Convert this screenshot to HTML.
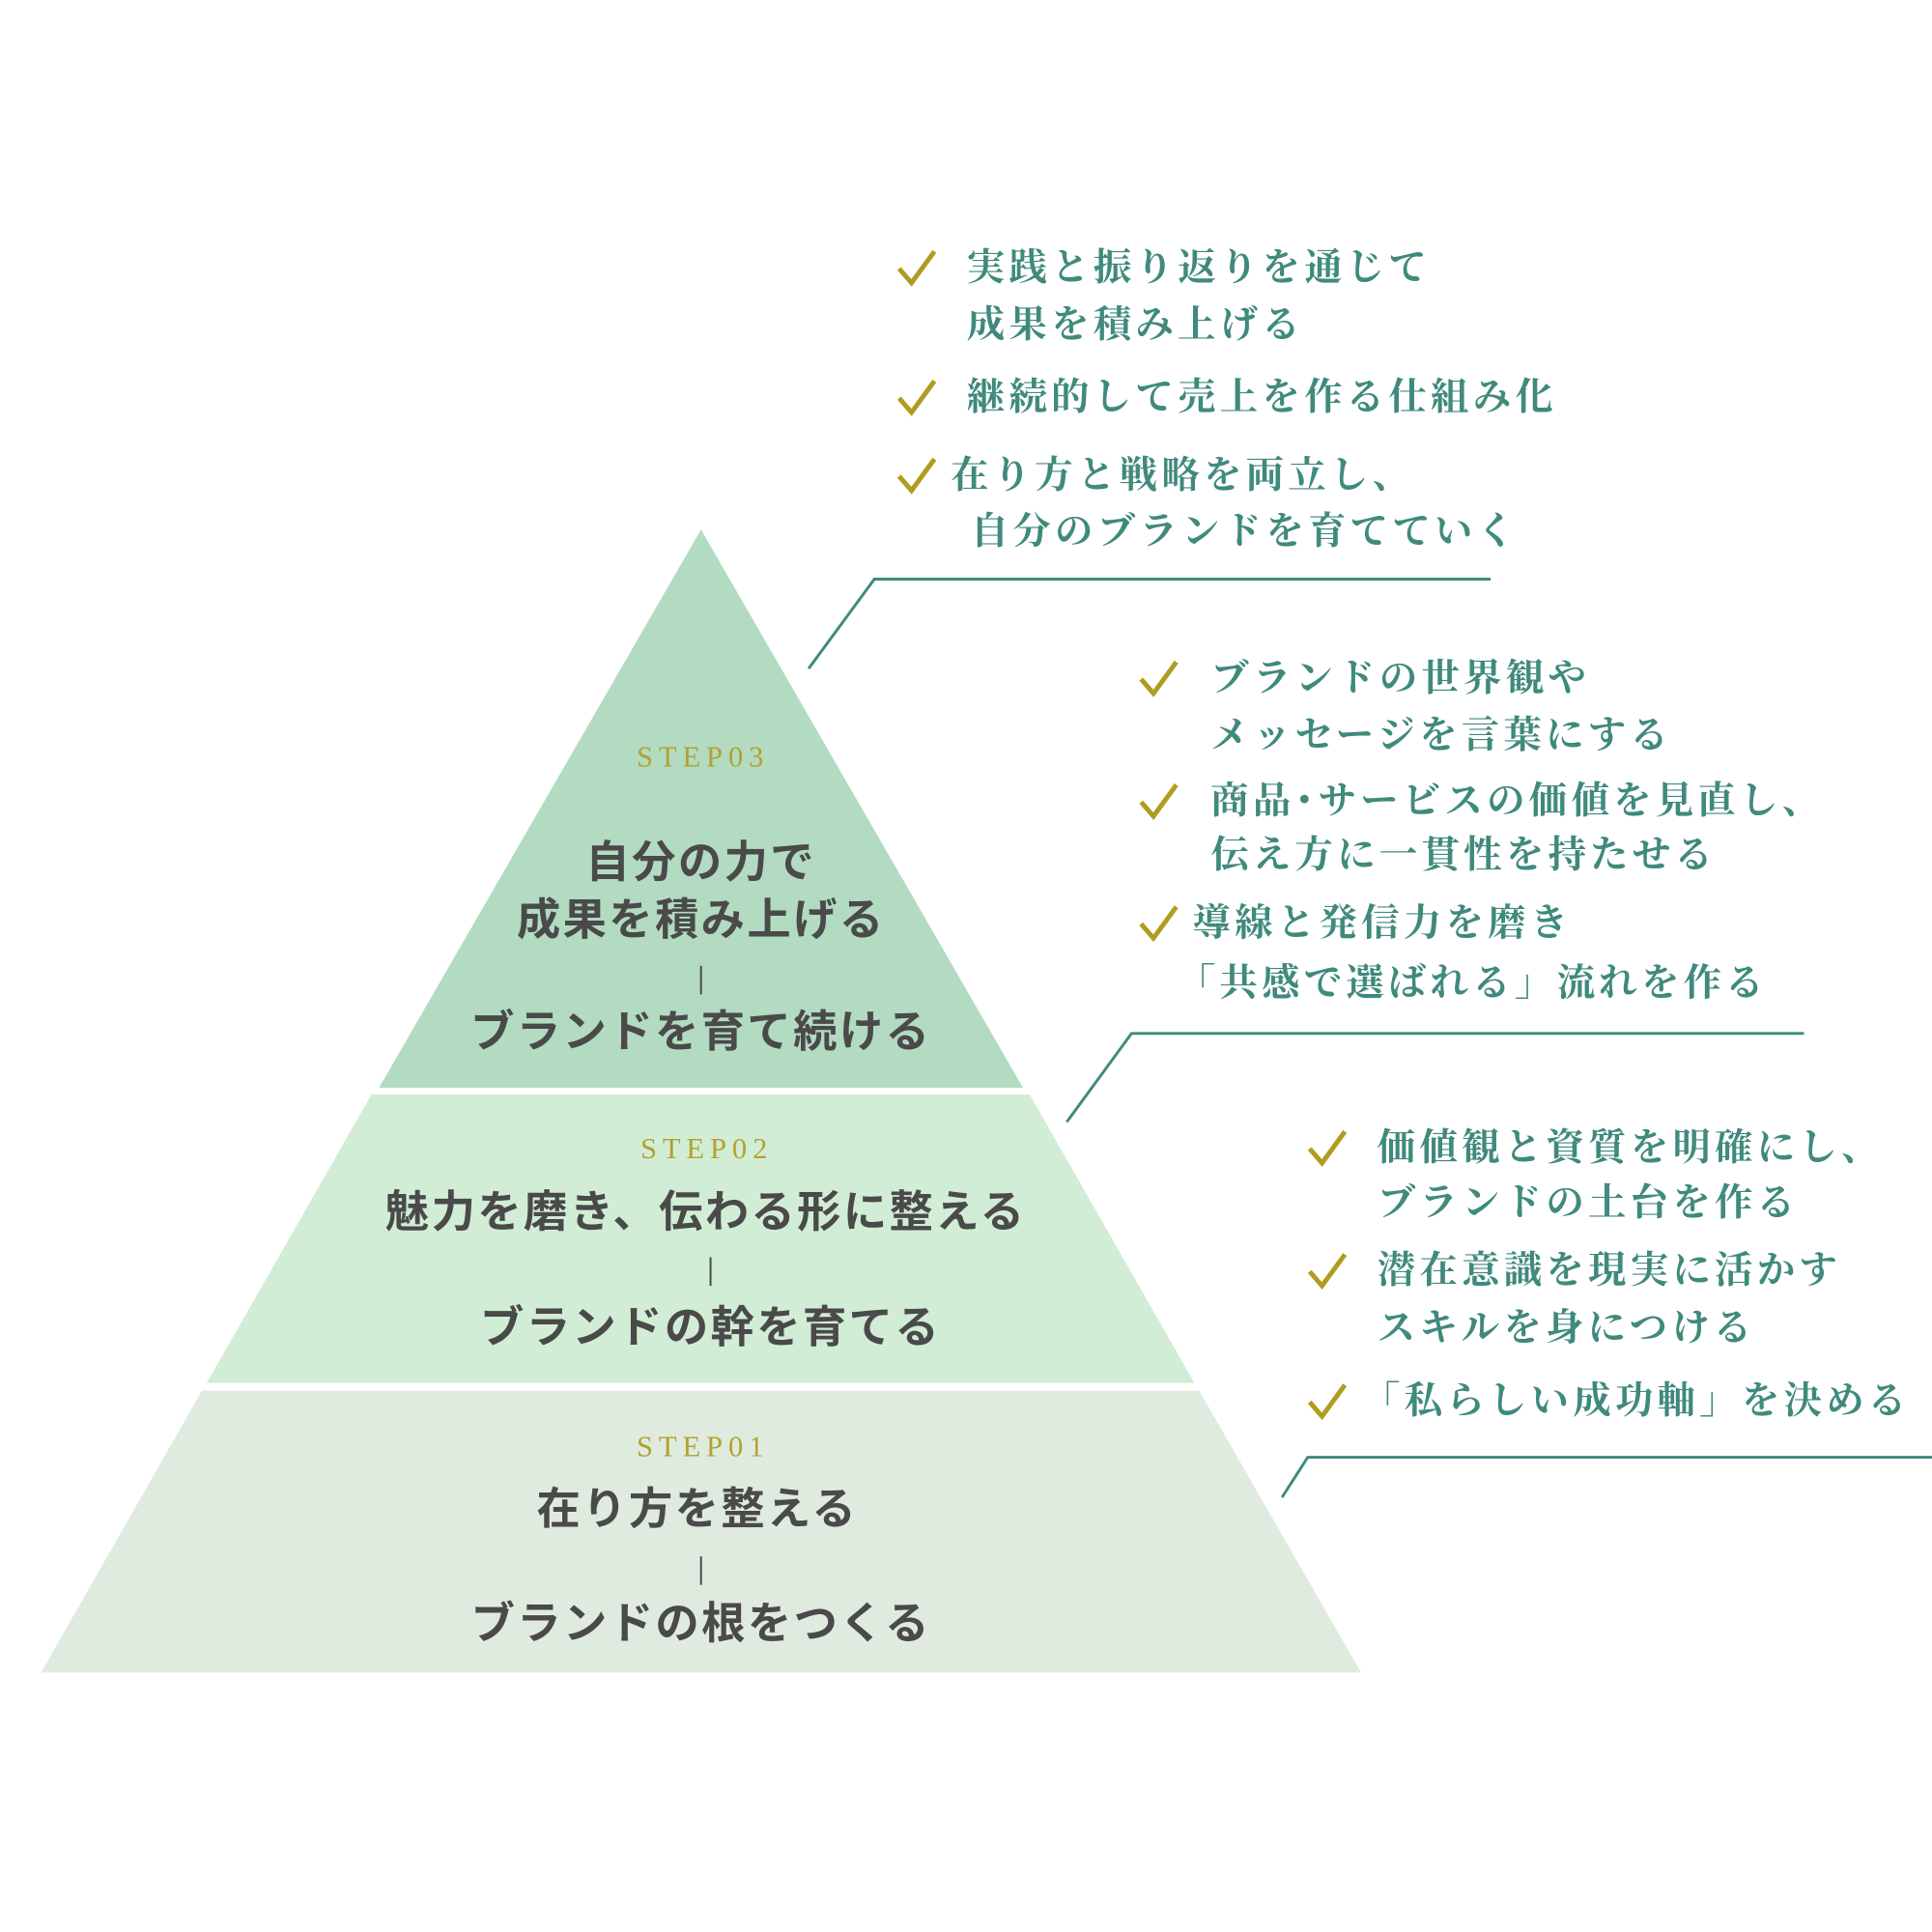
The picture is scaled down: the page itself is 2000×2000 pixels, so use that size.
<!DOCTYPE html>
<html><head><meta charset="utf-8"><style>
html,body{margin:0;padding:0;background:#fff}
svg{display:block}
.s{font-family:"Liberation Serif","Noto Serif CJK JP",serif;font-size:31px;fill:#b2a232;letter-spacing:6px;text-anchor:middle}
.m{font-family:"Liberation Sans","Noto Sans CJK JP",sans-serif;font-weight:bold;font-size:46px;fill:#4a4a4a;text-anchor:middle;letter-spacing:2.4px}
.t{font-family:"Liberation Serif","Noto Serif CJK JP",serif;font-weight:bold;font-size:40px;fill:#3f8a7c;letter-spacing:4.3px}
.ck{fill:none;stroke:#b09c1e;stroke-width:5}
.ln{fill:none;stroke:#3f8a7c;stroke-width:3}
</style></head><body>
<svg width="2000" height="2000" viewBox="0 0 2000 2000" xmlns="http://www.w3.org/2000/svg">
<g transform="scale(0.986)">
<polygon points="736,556 1074,1142 398,1142" fill="#b2dbc1"/>
<polygon points="390,1149 1081,1149 1254,1452 217,1452" fill="#d2edd5"/>
<polygon points="212,1460 1259,1460 1429,1756 43,1756" fill="#e0ebdf"/>

<text class="s" x="738" y="805">STEP03</text>
<text class="m" x="736" y="921">自分の力で</text>
<text class="m" x="736" y="981">成果を積み上げる</text>
<line x1="736" y1="1014" x2="736" y2="1044" stroke="#4a4a4a" stroke-width="2"/>
<text class="m" x="736" y="1099">ブランドを育て続ける</text>

<text class="s" x="742" y="1216">STEP02</text>
<text class="m" x="741" y="1288">魅力を磨き、伝わる形に整える</text>
<line x1="746" y1="1320" x2="746" y2="1350" stroke="#4a4a4a" stroke-width="2"/>
<text class="m" x="746" y="1409">ブランドの幹を育てる</text>

<text class="s" x="738" y="1529">STEP01</text>
<text class="m" x="732" y="1600">在り方を整える</text>
<line x1="736" y1="1634" x2="736" y2="1664" stroke="#4a4a4a" stroke-width="2"/>
<text class="m" x="736" y="1720">ブランドの根をつくる</text>

<path class="ck" d="M944,282 L957,297 L981,264"/>
<text class="t" x="1015" y="294">実践と振り返りを通じて</text>
<text class="t" x="1015" y="354">成果を積み上げる</text>
<path class="ck" d="M944,418 L957,433 L981,400"/>
<text class="t" x="1015" y="430">継続的して売上を作る仕組み化</text>
<path class="ck" d="M944,500 L957,515 L981,482"/>
<text class="t" x="998" y="512">在り方と戦略を両立し、</text>
<text class="t" x="1019" y="571">自分のブランドを育てていく</text>
<polyline class="ln" points="849,702 918,608 1565,608"/>

<path class="ck" d="M1198,713 L1211,728 L1235,695"/>
<text class="t" x="1271" y="725">ブランドの世界観や</text>
<text class="t" x="1271" y="785">メッセージを言葉にする</text>
<path class="ck" d="M1198,842 L1211,857 L1235,824"/>
<text class="t" x="1271" y="854">商品･サービスの価値を見直し、</text>
<text class="t" x="1271" y="911">伝え方に一貫性を持たせる</text>
<path class="ck" d="M1198,970 L1211,985 L1235,952"/>
<text class="t" x="1252" y="982">導線と発信力を磨き</text>
<text class="t" x="1236" y="1045">「共感で選ばれる」流れを作る</text>
<polyline class="ln" points="1120,1178 1188,1085 1894,1085"/>

<path class="ck" d="M1375,1206 L1388,1221 L1412,1188"/>
<text class="t" x="1446" y="1218">価値観と資質を明確にし、</text>
<text class="t" x="1446" y="1276">ブランドの土台を作る</text>
<path class="ck" d="M1375,1335 L1388,1350 L1412,1317"/>
<text class="t" x="1446" y="1347">潜在意識を現実に活かす</text>
<text class="t" x="1446" y="1407">スキルを身につける</text>
<path class="ck" d="M1375,1472 L1388,1487 L1412,1454"/>
<text class="t" x="1430" y="1484">「私らしい成功軸」を決める</text>
<polyline class="ln" points="1346,1572 1373,1530 2030,1530"/>
</g>
</svg>
</body></html>
